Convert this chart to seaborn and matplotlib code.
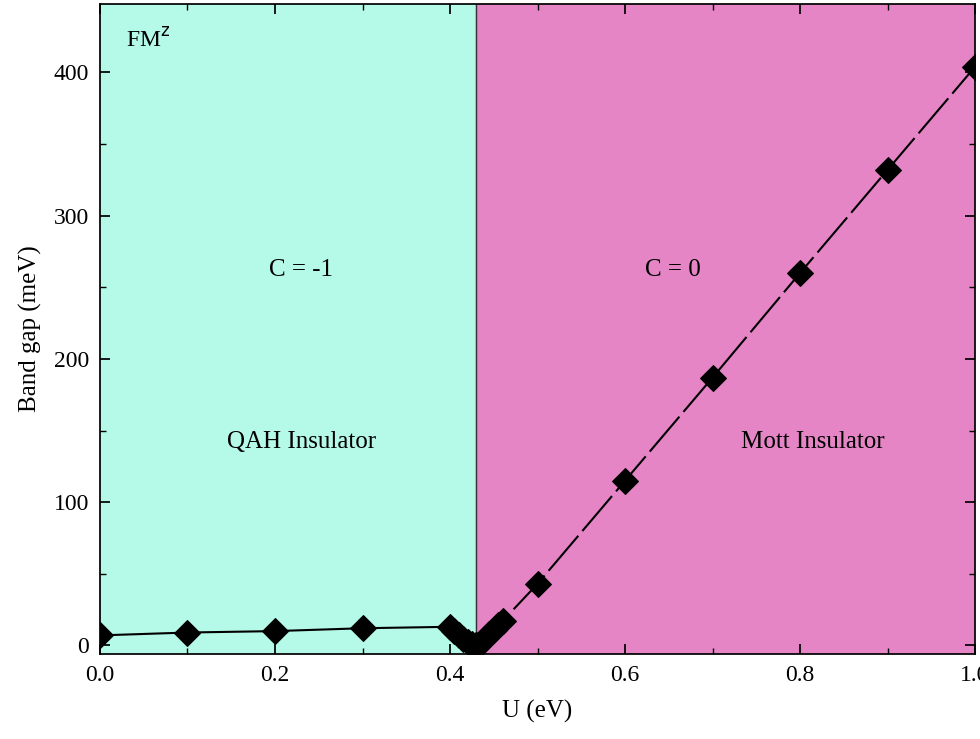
import matplotlib
matplotlib.use("Agg")
import matplotlib.pyplot as plt
import seaborn as sns
import pandas as pd

u_left = [0.0, 0.1, 0.2, 0.3, 0.4, 0.405, 0.41, 0.415, 0.42, 0.425, 0.43]
gap_left = [7, 9, 10, 12, 13, 10, 7, 4.5, 2.5, 1, 0]
u_right = [0.43, 0.435, 0.44, 0.445, 0.45, 0.455, 0.46, 0.5, 0.6, 0.7, 0.8, 0.9, 1.0]
gap_right = [0, 2, 5, 8, 11, 14, 17, 43, 115, 187, 260, 332, 404]
x_ticks = [0.0, 0.2, 0.4, 0.6, 0.8, 1.0]
y_ticks = [0, 100, 200, 300, 400]
boundary = 0.43

sns.set_theme(style="ticks", font="Liberation Serif", font_scale=1.0,
              rc={"text.color": "black", "axes.labelcolor": "black",
                  "xtick.color": "black", "ytick.color": "black",
                  "axes.edgecolor": "black"})
fig, ax = plt.subplots(figsize=(9.8, 7.39), dpi=100)

ax.axvspan(-0.01, boundary, color="#b5f9e8", zorder=0)
ax.axvspan(boundary, 1.01, color="#e585c6", zorder=0)
ax.axvline(boundary, color="#333333", lw=1, zorder=1)

left = pd.DataFrame({"U": u_left, "gap": gap_left})
right = pd.DataFrame({"U": u_right, "gap": gap_right})
sns.lineplot(data=left, x="U", y="gap", ax=ax, color="black", lw=1.5,
             marker="D", markersize=13, markeredgecolor="black", zorder=3)
sns.lineplot(data=right, x="U", y="gap", ax=ax, color="black", lw=1.5,
             marker="D", markersize=13, markeredgecolor="black", zorder=3)
ax.lines[-1].set_dashes([22, 3])

ax.set_xlim(0.0, 1.0)
ax.set_ylim(-6, 448)
ax.set_xticks(x_ticks)
ax.set_yticks(y_ticks)
ax.set_xticklabels([f"{v:.1f}" for v in x_ticks])
ax.set_xticks([0.1, 0.3, 0.5, 0.7, 0.9], minor=True)
ax.set_yticks([50, 150, 250, 350], minor=True)
ax.tick_params(which="both", direction="in", top=True, right=True, labelsize=17)
ax.tick_params(which="major", length=7, pad=8)
ax.tick_params(which="minor", length=4)
ax.set_xlabel("U (eV)", fontsize=18, labelpad=10)
ax.set_ylabel("Band gap (meV)", fontsize=18, labelpad=8)

ax.text(0.03, 418, r"FM$^{\rm z}$", fontsize=17)
ax.text(0.23, 258, "C = -1", fontsize=18, ha="center")
ax.text(0.23, 138, "QAH Insulator", fontsize=18, ha="center")
ax.text(0.655, 258, "C = 0", fontsize=18, ha="center")
ax.text(0.815, 138, "Mott Insulator", fontsize=18, ha="center")

fig.subplots_adjust(left=0.102, right=0.995, top=0.995, bottom=0.115)
fig.savefig("out.png", dpi=100)
